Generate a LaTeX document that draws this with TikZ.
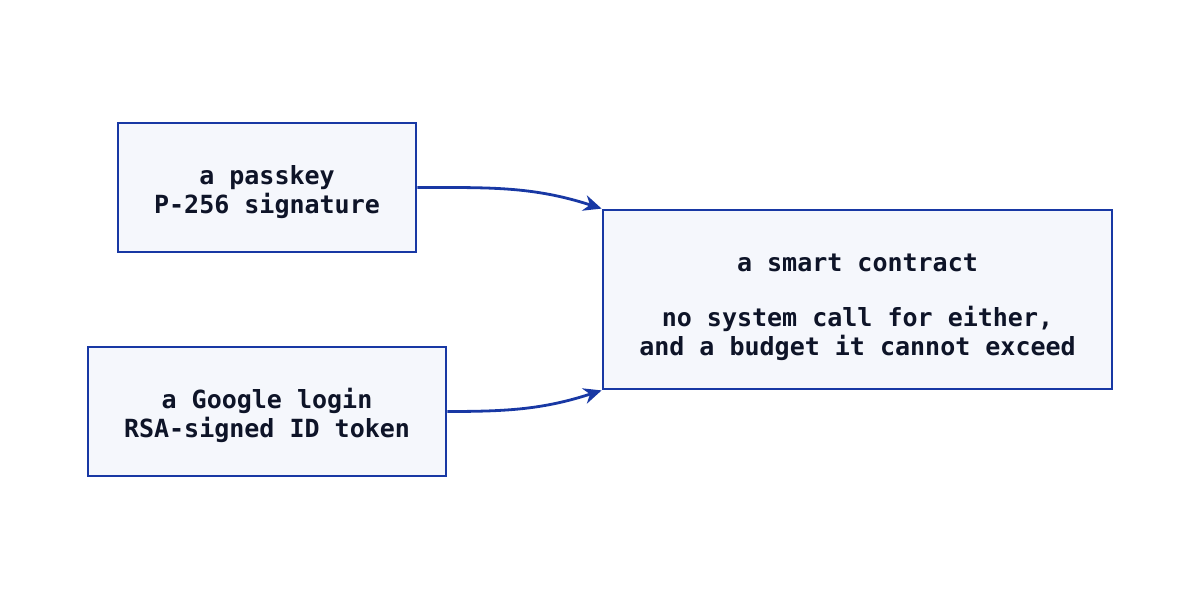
\documentclass[tikz,border=0pt]{standalone}
\usepackage{fontspec}
\setmonofont{DejaVu Sans Mono}
\usetikzlibrary{arrows.meta}
\definecolor{edgeblue}{RGB}{24,56,164}
\definecolor{boxfill}{RGB}{245,247,252}
\definecolor{ink}{RGB}{14,20,40}
\newcommand{\topstrut}{\rule{0pt}{14.5pt}}

\begin{document}
\begin{tikzpicture}[x=0.5pt, y=-0.5pt,
  every node/.style={draw=edgeblue, fill=boxfill, line width=1.4pt, text=ink, align=center,
    font=\ttfamily\bfseries\fontsize{12.5}{14.5}\selectfont, inner sep=0pt},
  flow/.style={draw=edgeblue, line width=1.4pt, -{Stealth[length=9pt, width=8pt]}}]
  \useasboundingbox (0,0) rectangle (1200,600);
  \node[minimum width=149pt, minimum height=64.5pt] (passkey) at (267,187.5) {\topstrut a passkey\\P-256 signature};
  \node[minimum width=179pt, minimum height=64.5pt] (google) at (267,411.5) {\topstrut a Google login\\RSA-signed ID token};
  \node[minimum width=254.5pt, minimum height=89.5pt] (contract) at (857.5,299.5)
    {\rule{0pt}{17pt}a smart contract\\[13pt]no system call for either,\\and a budget it cannot exceed};

  \draw[flow] (passkey.east) to[out=0, in=162] (contract.north west);
  \draw[flow] (google.east) to[out=0, in=198] (contract.south west);
\end{tikzpicture}
\end{document}
